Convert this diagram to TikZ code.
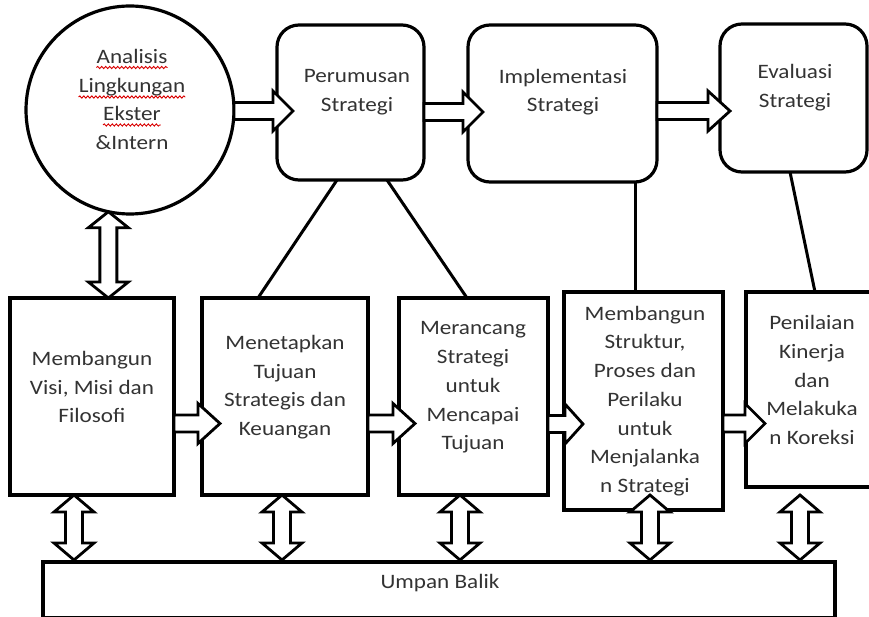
\documentclass[tikz,border=0pt]{standalone}
\usepackage{fontspec}
\setmainfont{Carlito}[FakeStretch=1.13]
\usetikzlibrary{calc,decorations.pathmorphing}
\tikzset{
 bx/.style={draw=black, line width=3.2pt, fill=white, inner sep=0pt, outer sep=0pt},
 rbx/.style={bx, rounded corners=22pt},
 txt/.style={font=\fontsize{20.5}{28.7}\selectfont, text=black!80, align=center, inner sep=0pt},
 blk/.style={draw=black, line width=2.8pt, fill=white, line join=miter},
 lnk/.style={draw=black, line width=3pt},
 wavy/.style={draw=red!85!black, line width=0.9pt, decorate, decoration={snake, amplitude=1.1pt, segment length=4pt}}
}
\newcommand\rblock[3]{\draw[blk] let \p1=#1, \p2=#2 in (\x1,\y2+8.5pt) -- (\x2-#3pt,\y2+8.5pt) -- (\x2-#3pt,\y2+20pt) -- (\x2,\y2) -- (\x2-#3pt,\y2-20pt) -- (\x2-#3pt,\y2-8.5pt) -- (\x1,\y2-8.5pt) -- cycle;}
\newcommand\vdbl[3]{\draw[blk] let \p1=#1, \p2=#2 in (\x1,\y1) -- (\x1+20pt,\y1-#3pt) -- (\x1+8.5pt,\y1-#3pt) -- (\x1+8.5pt,\y2+#3pt) -- (\x1+20pt,\y2+#3pt) -- (\x1,\y2) -- (\x1-20pt,\y2+#3pt) -- (\x1-8.5pt,\y2+#3pt) -- (\x1-8.5pt,\y1-#3pt) -- (\x1-20pt,\y1-#3pt) -- cycle;}
\begin{document}
\begin{tikzpicture}[x=1pt,y=-1pt]
\useasboundingbox (0,0) rectangle (869,617);
\clip (0,0) rectangle (869,617);
% shapes
\node[bx, circle, minimum size=208pt] (circ) at (130,110) {};
\node[rbx, minimum width=147pt, minimum height=155pt] (per) at (350.5,102.5) {};
\node[rbx, minimum width=189pt, minimum height=157pt] (imp) at (562.5,103.5) {};
\node[rbx, minimum width=147pt, minimum height=148pt] (eva) at (793.5,98) {};
\node[bx, minimum width=164pt, minimum height=197pt] (b1) at (92,396.5) {};
\node[bx, minimum width=166pt, minimum height=197pt] (b2) at (285,396.5) {};
\node[bx, minimum width=149pt, minimum height=197pt] (b3) at (473.5,396.5) {};
\node[bx, minimum width=159pt, minimum height=218pt] (b4) at (643.5,401) {};
\node[bx, minimum width=132pt, minimum height=195pt] (b5) at (812,389.5) {};
\node[bx, minimum width=792pt, minimum height=55.5pt] (umpan) at (439,589.75) {};
% plain links
\draw[lnk] ($(per.south west)+(60,0)$) -- ($(b2.north west)+(56,0)$);
\draw[lnk] ($(per.south west)+(110,0)$) -- ($(b3.north west)+(68,0)$);
\draw[lnk] ($(imp.south west)+(167,0)$) -- ($(b4.north west)+(71,0)$);
\draw[lnk] ($(eva.south west)+(70,0)$) -- ($(b5.north west)+(69,0)$);
% block arrows, top row
\rblock{(circ.east)}{($(per.west)+(16,8.5)$)}{20}
\rblock{(per.east)}{($(imp.west)+(15,8.5)$)}{20}
\rblock{(imp.east)}{($(eva.west)+(10,13)$)}{22}
% block arrows, bottom row
\rblock{(b1.east)}{($(b2.west)+(18,27)$)}{22}
\rblock{(b2.east)}{($(b3.west)+(16,27)$)}{22}
\rblock{(b3.east)}{($(b4.west)+(19,23)$)}{18}
\rblock{(b4.east)}{($(b5.west)+(19,34)$)}{20}
% double arrows
\vdbl{(circ.258)}{($(b1.north)+(16,0)$)}{16}
\vdbl{($(b1.south)+(-18,0)$)}{($(umpan.north)+(0,-2)$)}{17}
\vdbl{($(b2.south)+(-3,0)$)}{($(umpan.north)+(0,-2)$)}{17}
\vdbl{($(b3.south)+(-13.5,0)$)}{($(umpan.north)+(0,-2)$)}{17}
\vdbl{($(b4.south)+(6.5,-15)$)}{($(umpan.north)+(0,-2)$)}{17}
\vdbl{($(b5.south)+(-12,8)$)}{($(umpan.north)+(0,-2)$)}{17}
% texts
\node[txt, anchor=base] (c1) at (132,63.5) {Analisis};
\node[txt, anchor=base] (c2) at (132,93) {Lingkungan};
\node[txt, anchor=base] (c3) at (132,121) {Ekster};
\node[txt, anchor=base] (c4) at (132,150) {\&Intern};
\draw[wavy] ($(c1.base west)+(0,4)$) -- ($(c1.base east)+(0,4)$);
\draw[wavy] ($(c2.base west)+(0,4)$) -- ($(c2.base east)+(0,4)$);
\draw[wavy] ($(c3.base west)+(0,4)$) -- ($(c3.base east)+(0,4)$);
\node[txt] (tper) at (357,92) {Perumusan\\Strategi};
\node[txt] (timp) at (563,92) {Implementasi\\Strategi};
\node[txt] (teva) at (795,87.5) {Evaluasi\\Strategi};
\node[txt] (tb1) at (92,387) {Membangun\\Visi, Misi dan\\Filosofi};
\node[txt] (tb2) at (285,387) {Menetapkan\\Tujuan\\Strategis dan\\Keuangan};
\node[txt] (tb3) at (473,387.5) {Merancang\\Strategi\\untuk\\Mencapai\\Tujuan};
\node[txt] (tb4) at (645,401) {Membangun\\Struktur,\\Proses dan\\Perilaku\\untuk\\Menjalanka\\n Strategi};
\node[txt] (tb5) at (812,380) {Penilaian\\Kinerja\\dan\\Melakuka\\n Koreksi};
\node[txt] (tub) at (440,583) {Umpan Balik};
\end{tikzpicture}
\end{document}
